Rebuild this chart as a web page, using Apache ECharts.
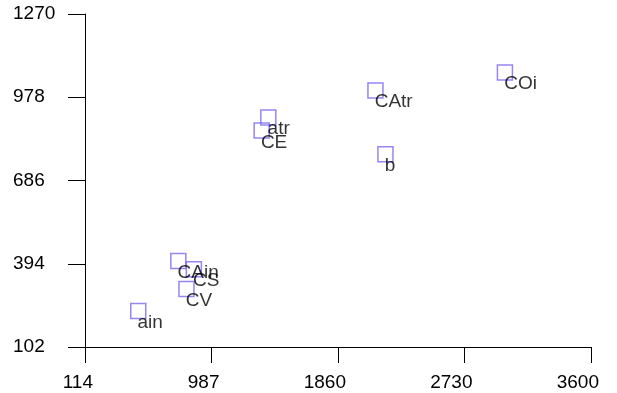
<!DOCTYPE html>
<html>
<head>
<meta charset="utf-8">
<script src="https://cdn.jsdelivr.net/npm/echarts@6/dist/echarts.min.js"></script>
<style>html,body{margin:0;padding:0;background:#fff;}#c{width:617px;height:393px;}</style>
</head>
<body>
<div id="c"></div>
<script>
var names = ['COi', 'CAtr', 'b', 'atr', 'CE', 'CAin', 'CS', 'CV', 'ain'];
var xValues = [3007, 2115, 2184, 1377, 1331, 757, 864, 813, 481];
var yValues = [1065, 1002, 778, 907, 861, 404, 375, 305, 228];
var xTickValues = [114, 985.5, 1857, 2728.5, 3600];
var xTickLabels = ['114', '987', '1860', '2730', '3600'];
var yTickValues = [102, 394, 686, 978, 1270];
var yTickLabels = ['102', '394', '686', '978', '1270'];

var data = names.map(function (n, i) { return { name: n, value: [xValues[i], yValues[i]] }; });
function fmt(vals, labs) {
  return function (v) {
    for (var i = 0; i < vals.length; i++) if (Math.abs(vals[i] - v) < 1e-6) return labs[i];
    return '';
  };
}
var FONT = '"Liberation Sans", Arial, sans-serif';
var chart = echarts.init(document.getElementById('c'), null, { renderer: 'canvas' });
chart.setOption({
  animation: false,
  backgroundColor: '#ffffff',
  grid: { left: 85, right: 26, top: 14, bottom: 46, containLabel: false },
  xAxis: {
    type: 'value', min: 114, max: 3600,
    splitLine: { show: false },
    axisLine: { show: true, onZero: false, lineStyle: { color: '#000', width: 1 } },
    axisTick: { show: true, inside: false, length: 16, customValues: xTickValues, lineStyle: { color: '#000', width: 1 } },
    axisLabel: { show: true, customValues: xTickValues, formatter: fmt(xTickValues, xTickLabels), margin: 26, align: 'right', padding: [0, -8, 0, 0], color: '#000', fontSize: 19, fontFamily: FONT, showMinLabel: true, showMaxLabel: true, hideOverlap: false }
  },
  yAxis: {
    type: 'value', min: 102, max: 1270,
    splitLine: { show: false },
    axisLine: { show: true, onZero: false, lineStyle: { color: '#000', width: 1 } },
    axisTick: { show: true, inside: false, length: 17, customValues: yTickValues, lineStyle: { color: '#000', width: 1 } },
    axisLabel: { show: true, customValues: yTickValues, formatter: fmt(yTickValues, yTickLabels), margin: 72, align: 'left', color: '#000', fontSize: 19, fontFamily: FONT, showMinLabel: true, showMaxLabel: true, hideOverlap: false }
  },
  series: [{
    type: 'scatter',
    data: data,
    symbol: 'rect',
    symbolSize: 15,
    itemStyle: { color: 'rgba(0,0,0,0)', borderColor: '#7b68ee', borderWidth: 1.5 },
    label: {
      show: true,
      formatter: '{b}',
      position: [7.5, 10.5],
      align: 'left',
      verticalAlign: 'top',
      color: '#000',
      fontSize: 19,
      fontFamily: FONT
    },
    labelLayout: { hideOverlap: false },
    emphasis: { disabled: true }
  }]
});
</script>
</body>
</html>
